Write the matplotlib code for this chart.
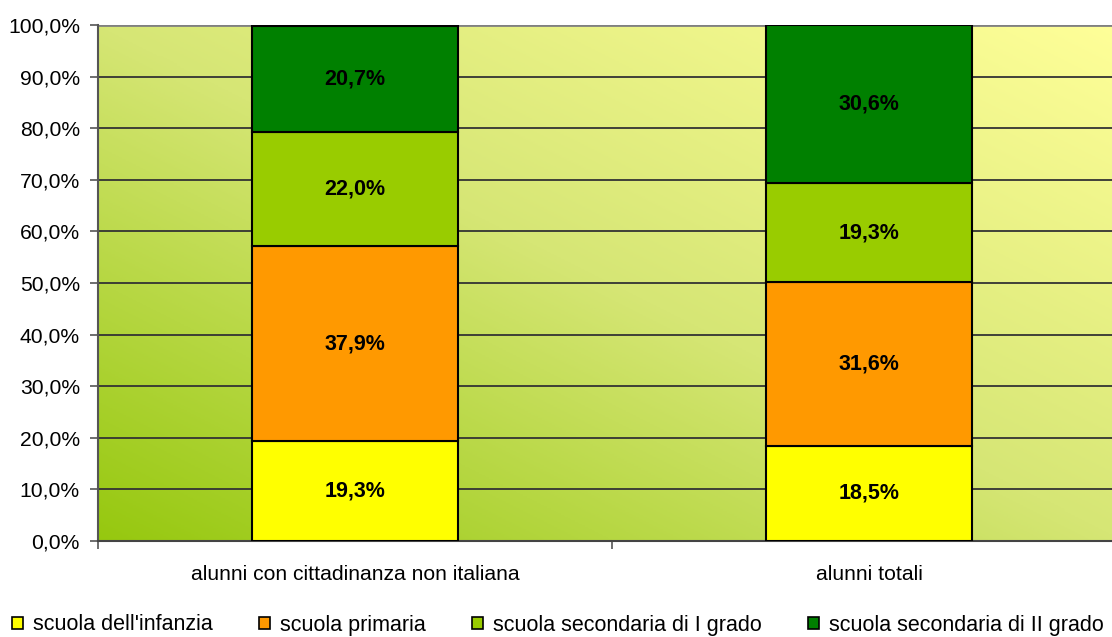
import numpy as np
import matplotlib
matplotlib.use("Agg")
import matplotlib.pyplot as plt
from matplotlib.colors import LinearSegmentedColormap
from matplotlib.patches import Patch

categories = ["alunni con cittadinanza non italiana", "alunni totali"]
series_names = ["scuola dell'infanzia", "scuola primaria",
                "scuola secondaria di I grado", "scuola secondaria di II grado"]
infanzia = [19.3, 18.5]
primaria = [37.9, 31.6]
sec_I = [22.0, 19.3]
sec_II = [20.7, 30.6]
yticks = [0, 10, 20, 30, 40, 50, 60, 70, 80, 90, 100]

series = [infanzia, primaria, sec_I, sec_II]
colors = ["#FFFF00", "#FF9900", "#99CC00", "#008000"]

plt.rcParams['font.family'] = ['Liberation Sans', 'DejaVu Sans']

fig = plt.figure(figsize=(11.12, 6.37), dpi=100)
ax = fig.add_axes([98/1112, 96/637, 1028/1112, 516/637])

# gradient background
n = 300
xx, yy = np.meshgrid(np.linspace(0, 1, n), np.linspace(0, 1, n))
t = (xx + yy) / 2
cmap = LinearSegmentedColormap.from_list("bg", ["#96C80F", "#D6E675", "#FFFF99"])
ax.imshow(t, cmap=cmap, extent=[0, 1, 0, 1], origin="lower",
          transform=ax.transAxes, aspect="auto", zorder=0, vmin=0, vmax=1)

x = np.arange(len(categories))
bottom = np.zeros(len(categories))
for vals, col, name in zip(series, colors, series_names):
    vals = np.array(vals)
    ax.bar(x, vals, width=0.4, bottom=bottom, color=col, edgecolor="black",
           linewidth=1.5, label=name, zorder=3)
    for xi, b, v in zip(x, bottom, vals):
        ax.text(xi, b + v / 2, f"{v:.1f}%".replace(".", ","), ha="center", va="center",
                fontsize=15.5, fontweight="bold", color="black", zorder=4)
    bottom = bottom + vals

ax.set_xlim(-0.5, 1.5)
ax.set_ylim(0, 100)
ax.set_yticks(yticks)
ax.set_yticklabels([f"{v:.1f}%".replace(".", ",") for v in yticks], fontsize=15.2)
ax.yaxis.grid(True, color="#333333", linewidth=1.3, zorder=1)
ax.set_axisbelow(True)
ax.set_xticks(x)
ax.set_xticklabels(categories, fontsize=15.2)
ax.tick_params(axis="x", which="major", length=0, pad=17)
ax.set_xticks([-0.5, 0.5, 1.5], minor=True)
ax.tick_params(axis="x", which="minor", length=6, color="#555555", width=1.2)
ax.tick_params(axis="y", length=6, color="#555555", width=1.2, pad=7)

for s in ["top", "right"]:
    ax.spines[s].set_visible(False)
ax.spines["left"].set_color("#555555")
ax.spines["left"].set_linewidth(1.5)
ax.spines["bottom"].set_color("#444444")
ax.spines["bottom"].set_linewidth(1.5)
ax.axhline(100, color="#808080", linewidth=2, zorder=2)

handles = [Patch(facecolor=c, edgecolor="black", linewidth=1.2) for c in colors]
fig.legend(handles, series_names, loc="center left", bbox_to_anchor=(12/1112, 12/637),
           ncol=4, frameon=False, fontsize=15.5, handlelength=0.5, handleheight=0.5,
           handletextpad=0.47, columnspacing=2.15, borderpad=0, borderaxespad=0)

fig.savefig("out.png", dpi=100)
